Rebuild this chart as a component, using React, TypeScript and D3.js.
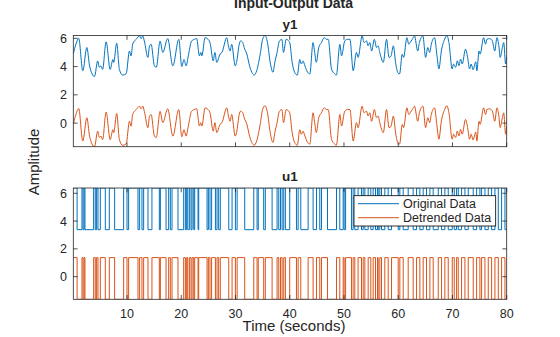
import React from "react";
import * as d3 from "d3";

const y1T = [0.1,0.6,1.1,1.85,2.6,3.1,4.0,4.6,4.9,5.2,5.5,6.15,6.9,7.4,7.55,8.1,8.6,9.2,9.85,10.45,10.75,11.05,11.7,12.3,12.6,12.9,13.2,13.85,14.15,14.45,15.05,15.4,16.1,16.6,17.5,18.45,19.55,20.1,20.5,20.9,21.3,21.9,22.4,22.85,23.35,23.6,23.8,24.4,24.8,25.3,25.9,26.2,26.55,27.15,27.5,28.4,28.7,29.0,29.3,29.95,30.2,30.7,30.95,31.35,31.6,32.1,32.6,33.0,33.45,33.9,34.55,35.0,35.45,35.9,36.4,36.9,37.3,37.6,38.1,38.55,38.85,39.35,39.75,40.0,40.45,40.9,41.4,41.85,42.15,42.45,42.8,43.3,43.7,44.3,44.6,44.9,45.35,45.85,46.35,46.8,47.1,47.7,48.3,48.6,49.25,49.55,50.15,50.65,51.1,51.7,52.3,52.6,53.35,53.7,54.15,54.45,54.75,55.1,55.6,56.0,56.3,56.6,57.25,57.85,58.3,58.65,59.1,59.55,59.95,60.25,60.75,61.0,61.6,61.95,62.2,62.6,63.0,63.6,63.9,64.55,65.05,65.45,65.8,66.1,66.7,67.15,67.5,67.95,68.55,68.98,69.35,69.95,70.2,70.6,70.9,71.2,71.5,71.8,72.4,72.8,73.15,73.45,73.8,74.3,74.5,74.9,75.1,75.75,76.1,76.35,76.85,77.35,77.8,78.2,78.55,78.8,79.2,79.45,79.8,80.0];
const y1V = [4.9,5.6,6.0,3.7,5.35,4.05,3.3,4.4,3.95,4.05,3.8,5.75,3.8,4.5,4.3,5.65,3.8,3.4,3.5,5.1,4.75,5.6,5.93,6.17,5.98,6.17,5.8,4.65,5.45,5.58,4.05,3.95,5.8,5.0,5.98,4.05,5.93,4.0,4.5,4.05,4.76,5.8,5.93,5.98,4.76,5.0,4.76,6.05,5.98,5.7,4.4,5.0,4.3,4.88,5.0,6.05,5.47,5.1,5.58,4.05,4.3,5.6,5.82,5.7,5.35,4.88,4.05,3.6,3.4,3.7,4.88,5.93,6.2,5.7,4.3,3.6,4.4,4.88,5.8,5.93,5.0,5.93,5.85,5.7,4.3,3.6,3.4,4.5,4.18,4.4,4.05,3.6,3.48,5.7,5.0,4.3,5.35,5.7,6.05,5.93,5.93,3.83,3.48,3.4,5.58,4.76,5.82,5.93,5.93,3.7,5.0,4.65,6.17,5.7,5.82,5.47,5.7,5.1,5.93,5.35,5.47,5.0,4.3,5.93,4.65,4.72,5.47,4.2,3.55,3.48,4.88,4.65,6.05,5.58,5.7,5.93,6.17,5.1,5.7,6.17,4.65,5.35,5.0,5.58,6.05,4.76,3.83,5.1,5.93,6.2,5.7,3.83,4.18,3.95,4.41,4.06,4.53,4.18,5.23,4.65,3.83,4.18,3.78,4.34,3.7,5.1,4.88,6.05,5.58,5.93,5.98,5.82,5.1,6.05,5.47,4.65,5.35,5.7,4.18,4.7];

const u1Levels = [6.38, 3.38]; // starting level, other level
const u1Switch = [0.8,1.7,1.9,2.1,2.25,3.85,4.15,4.4,4.65,5.08,6.0,6.74,7.72,9.38,10.0,10.3,12.03,12.33,12.76,13.07,13.87,14.6,15.96,16.15,17.2,17.68,17.99,18.3,19.4,20.45,20.76,21.0,21.2,21.5,21.8,22.0,22.3,22.48,23.1,23.22,24.76,25.0,25.3,25.6,26.3,26.6,26.9,27.2,28.76,29.37,29.98,30.3,31.7,33.37,33.98,34.2,35.2,35.5,36.75,37.67,37.98,38.3,38.6,38.9,39.2,40.0,41.24,41.55,42.04,43.39,44.31,44.93,45.54,45.85,46.96,48.62,49.23,49.85,50.03,50.3,51.38,51.69,52.0,52.6,53.23,53.54,53.85,54.46,54.95,55.38,55.81,56.18,56.3,56.61,56.92,57.53,58.15,58.77,60.0,60.3,60.92,61.84,62.76,63.38,63.99,64.6,65.22,65.84,66.45,67.38,67.99,68.6,69.22,69.96,70.33,70.76,71.07,71.68,72.3,72.91,73.83,74.45,75.06,75.37,75.99,76.6,77.22,77.83,78.45,79.06,79.68];

const xTicks = [10, 20, 30, 40, 50, 60, 70, 80];
const yTicks = [0, 2, 4, 6];
const seriesNames = ["Original Data", "Detrended Data"];
const colors = ["#0072BD", "#D95319"];

type P = [number, number];

function timeMean(pts: P[]): number {
  let area = 0;
  for (let i = 1; i < pts.length; i++) {
    area += ((pts[i][1] + pts[i - 1][1]) / 2) * (pts[i][0] - pts[i - 1][0]);
  }
  return area / (pts[pts.length - 1][0] - pts[0][0]);
}
function stepMean(pts: P[], tEnd: number): number {
  let area = 0;
  for (let i = 0; i < pts.length; i++) {
    const tn = i + 1 < pts.length ? pts[i + 1][0] : tEnd;
    area += pts[i][1] * (tn - pts[i][0]);
  }
  return area / (tEnd - pts[0][0]);
}

const y1Orig: P[] = y1T.map((t, i) => [t, y1V[i]]);
const y1Mean = timeMean(y1Orig);
const y1Det: P[] = y1Orig.map(([t, v]) => [t, v - y1Mean]);

const u1Orig: P[] = (() => {
  const pts: P[] = [[0.1, u1Levels[0]]];
  let k = 0;
  u1Switch.forEach((t) => {
    k = 1 - k;
    pts.push([t, u1Levels[k]]);
  });
  return pts;
})();
const u1Mean = stepMean(u1Orig, 80);
const u1Det: P[] = u1Orig.map(([t, v]) => [t, v - u1Mean]);
const u1OrigFull: P[] = [...u1Orig, [80, u1Orig[u1Orig.length - 1][1]]];
const u1DetFull: P[] = [...u1Det, [80, u1Det[u1Det.length - 1][1]]];

const W = 560, H = 337;
const X0 = 73.3, X1 = 506.7;
const axesTop = { y0: 35.5, y1: 146.7 };
const axesBot = { y0: 188, y1: 299.3 };
const FONT = "'Liberation Sans', Arial, Helvetica, sans-serif";
const AX = "#262626";
const TL = 4.3;

const x = d3.scaleLinear().domain([0.1, 80]).range([X0, X1]);

function Panel({ top, bot, orig, det, step, title, showX, id }: any) {
  const all = [...orig, ...det].map((p: P) => p[1]);
  const y = d3.scaleLinear().domain([d3.min(all)!, d3.max(all)!]).range([bot, top]);
  const line = d3.line<P>().x((d) => x(d[0])).y((d) => y(d[1])).curve(step ? d3.curveStepAfter : d3.curveMonotoneX);
  return (
    <g>
      <defs>
        <clipPath id={id}>
          <rect x={X0} y={top} width={X1 - X0} height={bot - top} />
        </clipPath>
      </defs>
      <rect x={X0} y={top} width={X1 - X0} height={bot - top} fill="#fff" />
      <g clipPath={`url(#${id})`}>
        <path d={line(orig) || ""} fill="none" stroke={colors[0]} strokeWidth={1} />
        <path d={line(det) || ""} fill="none" stroke={colors[1]} strokeWidth={1} />
      </g>
      <rect x={X0} y={top} width={X1 - X0} height={bot - top} fill="none" stroke={AX} strokeWidth={0.8} />
      {xTicks.map((t) => (
        <g key={"x" + t}>
          <line x1={x(t)} x2={x(t)} y1={bot} y2={bot - TL} stroke={AX} strokeWidth={0.8} />
          <line x1={x(t)} x2={x(t)} y1={top} y2={top + TL} stroke={AX} strokeWidth={0.8} />
          {showX && (
            <text x={x(t)} y={bot + 18.5} textAnchor="middle" fontSize={12.5} fill={AX} fontFamily={FONT}>
              {t}
            </text>
          )}
        </g>
      ))}
      {yTicks.map((t) => (
        <g key={"y" + t}>
          <line x1={X0} x2={X0 + TL} y1={y(t)} y2={y(t)} stroke={AX} strokeWidth={0.8} />
          <line x1={X1} x2={X1 - TL} y1={y(t)} y2={y(t)} stroke={AX} strokeWidth={0.8} />
          <text x={67} y={y(t) + 4.5} textAnchor="end" fontSize={12.5} fill={AX} fontFamily={FONT}>
            {t}
          </text>
        </g>
      ))}
      <text x={290} y={top - 7} textAnchor="middle" fontSize={13.5} fontWeight="bold" fill={AX} fontFamily={FONT}>
        {title}
      </text>
    </g>
  );
}

export default function App() {
  const lg = { x: 354, y: 195.7, w: 141.7, h: 30.3 };
  return (
    <svg width={W} height={H} style={{ position: "absolute", left: 0, top: 0, background: "#fff" }}>
      <rect width={W} height={H} fill="#fff" />
      <text x={293.5} y={8} textAnchor="middle" fontSize={14} fontWeight="bold" fill={AX} fontFamily={FONT}>
        Input-Output Data
      </text>
      <Panel top={axesTop.y0} bot={axesTop.y1} orig={y1Orig} det={y1Det} step={false} title="y1" showX={false} id="clipTop" />
      <Panel top={axesBot.y0} bot={axesBot.y1} orig={u1OrigFull} det={u1DetFull} step={true} title="u1" showX={true} id="clipBot" />
      <text transform="translate(39,162) rotate(-90)" textAnchor="middle" fontSize={15} fill={AX} fontFamily={FONT}>
        Amplitude
      </text>
      <text x={294} y={331} textAnchor="middle" fontSize={15} fill={AX} fontFamily={FONT}>
        Time (seconds)
      </text>
      <g>
        <rect x={lg.x} y={lg.y} width={lg.w} height={lg.h} fill="#fff" stroke="#000" strokeWidth={0.8} />
        {seriesNames.map((n, i) => (
          <g key={n}>
            <line x1={358} x2={399} y1={lg.y + 8 + i * 14} y2={lg.y + 8 + i * 14} stroke={colors[i]} strokeWidth={1} />
            <text x={403} y={lg.y + 12.3 + i * 14} fontSize={12.5} fill={AX} fontFamily={FONT}>
              {n}
            </text>
          </g>
        ))}
      </g>
    </svg>
  );
}
